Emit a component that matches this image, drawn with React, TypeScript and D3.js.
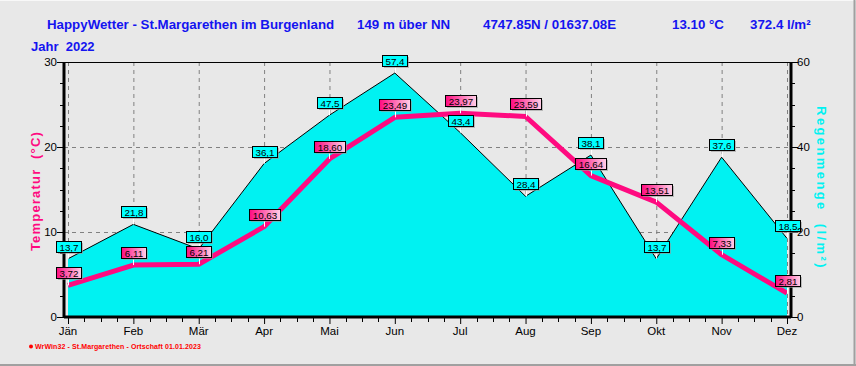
import React from "react";
import * as d3 from "d3";

const months = ["Jän", "Feb", "Mär", "Apr", "Mai", "Jun", "Jul", "Aug", "Sep", "Okt", "Nov", "Dez"];
const temperature = [3.72, 6.11, 6.21, 10.63, 18.6, 23.49, 23.97, 23.59, 16.64, 13.51, 7.33, 2.81];
const rain = [13.7, 21.8, 16.0, 36.1, 47.5, 57.4, 43.4, 28.4, 38.1, 13.7, 37.6, 18.5];
const tempTicks = [0, 10, 20, 30];
const rainTicks = [0, 20, 40, 60];

const W = 856;
const H = 366;
const PLOT = { left: 64, right: 791, top: 62, bottom: 317 };
const FONT = "'Liberation Sans', Arial, sans-serif";
const BLUE = "#1414f0";
const PINK = "#ff0a80";
const CYAN = "#00f2f2";
const NB = "\u00a0";

const fmt = (v: number, d: number) => v.toFixed(d).replace(".", ",");

function ValueBox({ x, y, text, kind }: { x: number; y: number; text: string; kind: "t" | "r" }) {
  const w = Math.round(text.length * 5.1 + 5);
  const h = 11;
  const bx = Math.round(x - w / 2);
  const by = Math.round(y - 7 - h);
  return (
    <g>
      <line x1={Math.round(x) + 0.5} x2={Math.round(x) + 0.5} y1={by + h} y2={y} stroke="#fff" strokeWidth={1} />
      <rect x={bx + 2} y={by + 2} width={w} height={h} fill="#9a9a9a" opacity={0.6} />
      <rect
        x={bx + 0.5}
        y={by + 0.5}
        width={w}
        height={h}
        fill={kind === "t" ? "url(#pinkGrad)" : "#00ffff"}
        stroke="#000"
        strokeWidth={1}
      />
      <text x={bx + 0.5 + w / 2} y={by + 9.5} textAnchor="middle" fontSize={9.8} fontFamily={FONT} fill="#000">
        {text}
      </text>
    </g>
  );
}

export default function App() {
  const x = d3.scalePoint<string>().domain(months).range([68, 787]);
  const yT = d3.scaleLinear().domain([0, 30]).range([PLOT.bottom, PLOT.top]);
  const yR = d3.scaleLinear().domain([0, 60]).range([PLOT.bottom, PLOT.top]);

  const area = d3
    .area<number>()
    .x((_, i) => x(months[i])!)
    .y0(PLOT.bottom)
    .y1((d) => yR(d));
  const rainTop = d3
    .line<number>()
    .x((_, i) => x(months[i])!)
    .y((d) => yR(d));
  const tempLine = d3
    .line<number>()
    .x((_, i) => x(months[i])!)
    .y((d) => yT(d));

  const step = x.step();
  const minorX: number[] = [];
  months.forEach((m, i) => {
    if (i < months.length - 1) for (let k = 1; k < 4; k++) minorX.push(x(m)! + (step * k) / 4);
  });
  const minorT = d3.range(0, 30.01, 2.5);

  return (
    <svg width={W} height={H} style={{ position: "absolute", left: 0, top: 0 }}>
      <defs>
        <linearGradient id="pinkGrad" x1="0" x2="1" y1="0" y2="0">
          <stop offset="0%" stopColor="#ff0a80" />
          <stop offset="100%" stopColor="#ffd0e8" />
        </linearGradient>
      </defs>
      <rect x={0} y={0} width={W} height={H} fill="#e8e8e8" />
      <line x1={0} x2={W} y1={0.5} y2={0.5} stroke="#f8f8f8" />
      <line x1={W - 1.5} x2={W - 1.5} y1={0} y2={H} stroke="#a0a0a0" strokeWidth={2} />
      <line x1={0} x2={W} y1={H - 1} y2={H - 1} stroke="#a0a0a0" strokeWidth={2} />

      {/* header */}
      <g fontFamily={FONT} fontWeight="bold" fontSize={13.3} fill={BLUE}>
        <text x={47} y={29}>HappyWetter - St.Margarethen im Burgenland</text>
        <text x={357} y={29}>149 m über NN</text>
        <text x={483} y={29}>4747.85N / 01637.08E</text>
        <text x={672} y={29}>13.10 °C</text>
        <text x={750} y={29}>372.4 l/m²</text>
        <text x={31} y={51} fontSize={13}>{`Jahr${NB}${NB}2022`}</text>
      </g>

      {/* grid */}
      <g stroke="#808080" strokeDasharray="4,4" strokeWidth={1}>
        {months.map((m) => (
          <line key={m} x1={x(m)! + 0.5} x2={x(m)! + 0.5} y1={PLOT.top} y2={PLOT.bottom} />
        ))}
        {[10, 20].map((t) => (
          <line key={t} x1={PLOT.left} x2={PLOT.right} y1={yT(t) + 0.5} y2={yT(t) + 0.5} />
        ))}
      </g>

      {/* rain area */}
      <path d={area(rain)!} fill={CYAN} />
      <path d={rainTop(rain)!} fill="none" stroke="#000" strokeWidth={1} />

      {/* temperature line */}
      <path d={tempLine(temperature)!} fill="none" stroke={PINK} strokeWidth={5} strokeLinejoin="round" />

      {/* frame & axes */}
      <line x1={PLOT.left} x2={PLOT.right} y1={PLOT.top + 0.5} y2={PLOT.top + 0.5} stroke="#000" />
      <line x1={PLOT.left} x2={PLOT.left} y1={PLOT.top} y2={PLOT.bottom + 1} stroke="#000" strokeWidth={3} />
      <line x1={PLOT.right} x2={PLOT.right} y1={PLOT.top} y2={PLOT.bottom + 1} stroke="#000" strokeWidth={3} />
      <line x1={PLOT.left} x2={PLOT.right} y1={PLOT.bottom} y2={PLOT.bottom} stroke="#000" strokeWidth={3} />

      <g stroke="#000" strokeWidth={1}>
        {minorT.map((t) => {
          const major = t % 10 === 0;
          const yy = Math.round(yT(t)) + 0.5;
          return (
            <g key={t}>
              <line x1={PLOT.left - (major ? 7 : 4)} x2={PLOT.left} y1={yy} y2={yy} />
              <line x1={PLOT.right} x2={PLOT.right + (major ? 7 : 4)} y1={yy} y2={yy} />
            </g>
          );
        })}
        {months.map((m) => (
          <line key={m} x1={x(m)! + 0.5} x2={x(m)! + 0.5} y1={PLOT.bottom} y2={PLOT.bottom + 7} />
        ))}
        {minorX.map((v, i) => (
          <line key={i} x1={Math.round(v) + 0.5} x2={Math.round(v) + 0.5} y1={PLOT.bottom} y2={PLOT.bottom + 5} />
        ))}
      </g>

      {/* value boxes */}
      {rain.map((v, i) => (
        <ValueBox key={"r" + i} x={x(months[i])!} y={yR(v)} text={fmt(v, 1)} kind="r" />
      ))}
      {temperature.map((v, i) => (
        <ValueBox key={"t" + i} x={x(months[i])!} y={yT(v)} text={fmt(v, 2)} kind="t" />
      ))}

      <g fontFamily={FONT} fontSize={11.5} fill="#000">
        {tempTicks.map((t) => (
          <text key={t} x={57} y={yT(t) + 4} textAnchor="end">
            {t}
          </text>
        ))}
        {rainTicks.map((t) => (
          <text key={t} x={797} y={yR(t) + 4}>
            {t}
          </text>
        ))}
        {months.map((m) => (
          <text key={m} x={x(m)!} y={335} textAnchor="middle">
            {m}
          </text>
        ))}
      </g>

      {/* axis titles */}
      <text
        transform="translate(40,191) rotate(-90)"
        textAnchor="middle"
        fontFamily={FONT}
        fontWeight="bold"
        fontSize={13}
        letterSpacing={1.2}
        fill={PINK}
      >
        {`Temperatur${NB}${NB}(°C)`}
      </text>
      <text
        transform="translate(817,188) rotate(90)"
        textAnchor="middle"
        fontFamily={FONT}
        fontWeight="bold"
        fontSize={13}
        letterSpacing={2.4}
        fill={CYAN}
      >
        {`Regenmenge${NB}${NB}(l/m²)`}
      </text>

      {/* footer */}
      <circle cx={31} cy={346.5} r={2} fill="#ff0000" />
      <text
        x={35}
        y={349}
        fontFamily={FONT}
        fontSize={7}
        fontWeight="bold"
        textLength={166}
        lengthAdjust="spacing"
        fill="#ff0000"
      >
        WrWin32 - St.Margarethen - Ortschaft 01.01.2023
      </text>
    </svg>
  );
}
